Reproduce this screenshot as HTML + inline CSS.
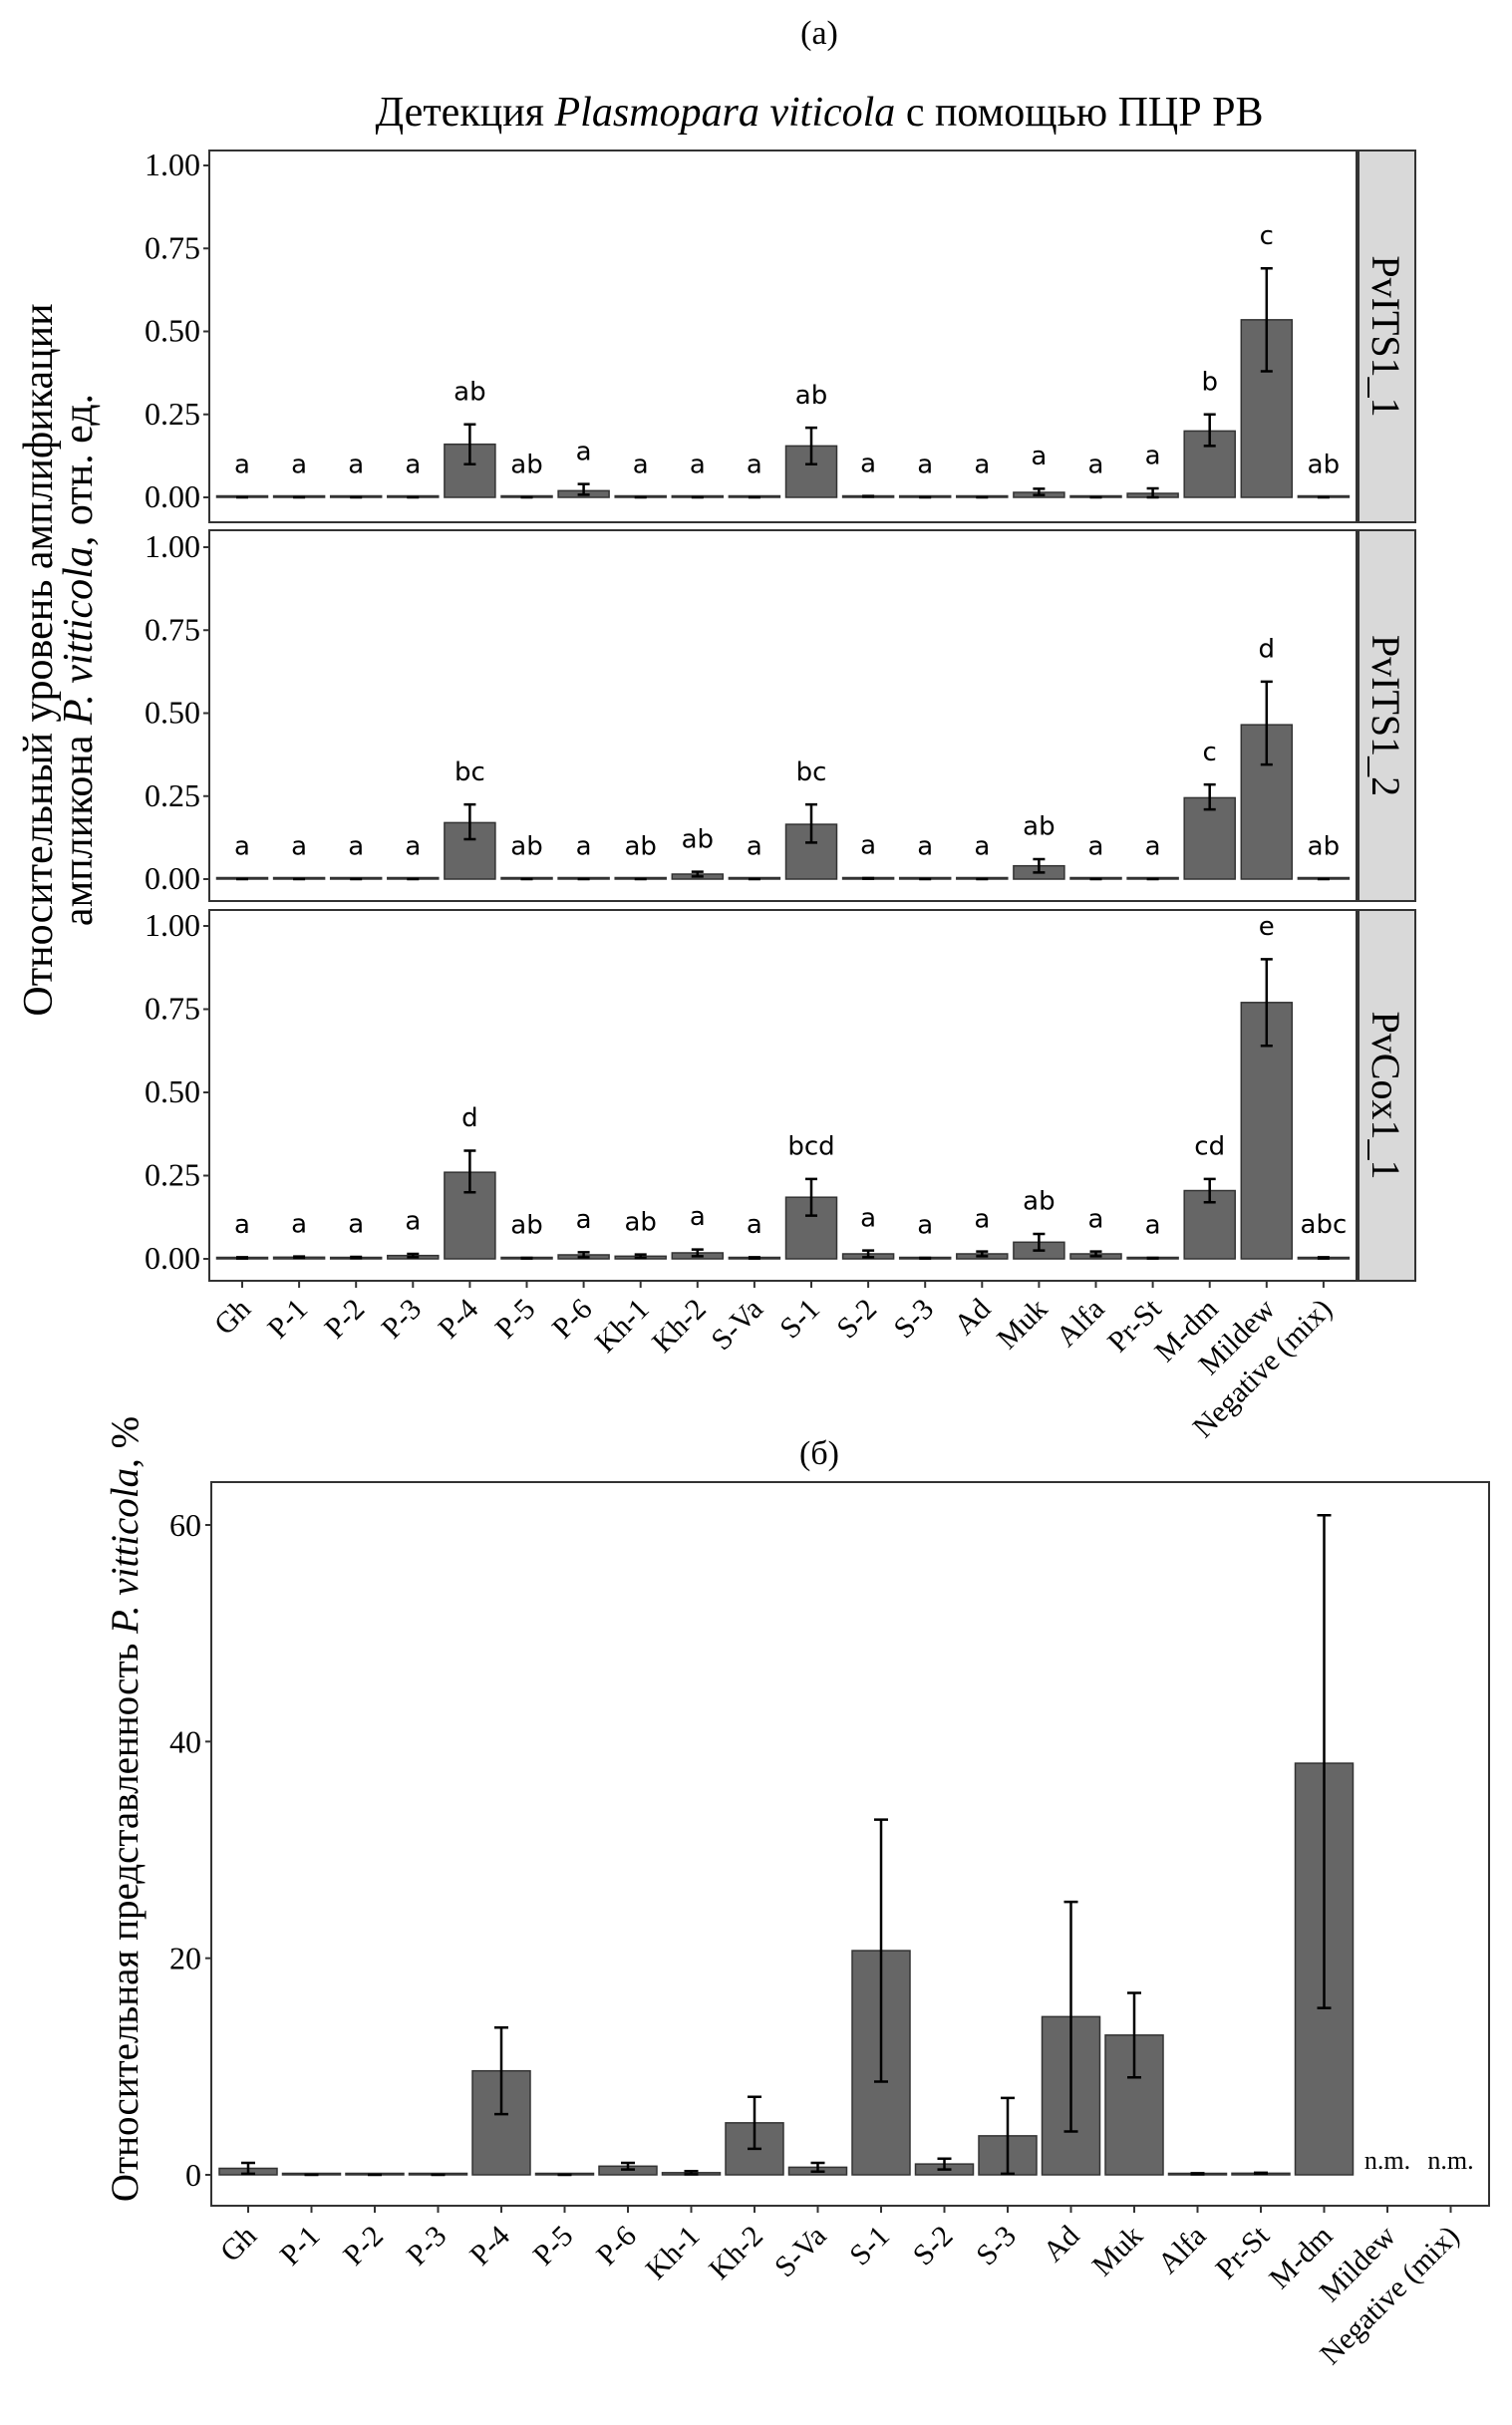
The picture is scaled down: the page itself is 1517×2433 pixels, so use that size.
<!DOCTYPE html>
<html><head><meta charset="utf-8"><style>
body{margin:0;background:#fff}
svg{display:block}
.ser{font-family:"Liberation Serif",serif}
.sans{font-family:"DejaVu Sans","Liberation Sans",sans-serif}
</style></head><body>
<svg id="chart" width="1517" height="2433" viewBox="0 0 1517 2433" xmlns="http://www.w3.org/2000/svg">
<text class="ser" x="822" y="44" font-size="34" text-anchor="middle">(a)</text>
<text class="ser" x="822" y="126" font-size="42" text-anchor="middle">Детекция <tspan font-style="italic">Plasmopara viticola</tspan> с помощью ПЦР РВ</text>
<text class="ser" font-size="42" text-anchor="middle" transform="translate(52,662) rotate(-90)">Относительный уровень амплификации</text>
<text class="ser" font-size="42" text-anchor="middle" transform="translate(92,662) rotate(-90)">ампликона <tspan font-style="italic">P. vitticola</tspan>, отн. ед.</text>
<text class="ser" x="822" y="1469" font-size="34" text-anchor="middle">(б)</text>
<text class="ser" font-size="39" text-anchor="middle" transform="translate(138,1815) rotate(-90)">Относительная представленность <tspan font-style="italic">P. vitticola</tspan>, %</text>
<g id="topchart"></g><g id="bottomchart"></g>
</svg>
<script>
const categories=["Gh","P-1","P-2","P-3","P-4","P-5","P-6","Kh-1","Kh-2","S-Va","S-1","S-2","S-3","Ad","Muk","Alfa","Pr-St","M-dm","Mildew","Negative (mix)"];
const facets=["PvITS1_1","PvITS1_2","PvCox1_1"];
const its1Mean=[0,0,0,0,0.16,0,0.02,0,0,0,0.155,0.003,0,0,0.015,0,0.012,0.20,0.535,0];
const its1Lo=[0,0,0,0,0.10,0,0.008,0,0,0,0.10,0.002,0,0,0.007,0,0.0,0.155,0.38,0];
const its1Hi=[0,0,0,0,0.22,0,0.04,0,0,0,0.21,0.004,0,0,0.026,0,0.027,0.25,0.69,0];
const its1Let=["a","a","a","a","ab","ab","a","a","a","a","ab","a","a","a","a","a","a","b","c","ab"];
const its2Mean=[0,0,0,0,0.17,0,0,0,0.015,0,0.165,0.002,0,0,0.04,0,0,0.245,0.465,0];
const its2Lo=[0,0,0,0,0.12,0,0,0,0.008,0,0.11,0.001,0,0,0.02,0,0,0.21,0.345,0];
const its2Hi=[0,0,0,0,0.225,0,0,0,0.022,0,0.225,0.003,0,0,0.06,0,0,0.285,0.595,0];
const its2Let=["a","a","a","a","bc","ab","a","ab","ab","a","bc","a","a","a","ab","a","a","c","d","ab"];
const coxMean=[0.003,0.005,0.004,0.01,0.26,0.002,0.012,0.008,0.018,0.003,0.185,0.015,0.002,0.015,0.05,0.015,0.002,0.205,0.77,0.003];
const coxLo=[0.001,0.003,0.002,0.005,0.20,0.001,0.005,0.003,0.008,0.001,0.13,0.005,0.001,0.008,0.025,0.008,0.001,0.17,0.64,0.001];
const coxHi=[0.005,0.007,0.006,0.015,0.325,0.003,0.02,0.013,0.028,0.005,0.24,0.025,0.003,0.022,0.075,0.022,0.003,0.24,0.90,0.005];
const coxLet=["a","a","a","a","d","ab","a","ab","a","a","bcd","a","a","a","ab","a","a","cd","e","abc"];
const topTicks=[0,0.25,0.5,0.75,1.0];
const topTickLabels=["0.00","0.25","0.50","0.75","1.00"];
const pctMean=[0.6,0,0,0,9.6,0,0.8,0.2,4.8,0.7,20.7,1.0,3.6,14.6,12.9,0.1,0.15,38.0,null,null];
const pctLo=[0.1,0,0,0,5.6,0,0.5,0.05,2.4,0.3,8.6,0.5,0.1,4.0,9.0,0.05,0.1,15.4,null,null];
const pctHi=[1.1,0,0,0,13.6,0,1.1,0.35,7.2,1.1,32.8,1.5,7.1,25.2,16.8,0.15,0.2,60.9,null,null];
const bottomTicks=[0,20,40,60];

(function(){
const NS="http://www.w3.org/2000/svg";
function mk(parent,tag,attrs,text){const e=document.createElementNS(NS,tag);for(const k in attrs)e.setAttribute(k,attrs[k]);if(text!==undefined)e.textContent=text;parent.appendChild(e);return e;}

const topG=document.getElementById('topchart');
const panels=[{t:151,b:524,zero:499,one:166,m:its1Mean,lo:its1Lo,hi:its1Hi,l:its1Let},
{t:532,b:904,zero:882,one:549,m:its2Mean,lo:its2Lo,hi:its2Hi,l:its2Let},
{t:913,b:1285,zero:1263,one:929,m:coxMean,lo:coxLo,hi:coxHi,l:coxLet}];
const tL=210,tR=1361,sR=1420;
const tx=i=>243+i*57.1;
panels.forEach((p,pi)=>{
  const y=v=>p.zero+(p.one-p.zero)*v;
  const g=mk(topG,'g',{});
  
  
  const bg=mk(g,'rect',{x:tL,y:p.t,width:tR-tL,height:p.b-p.t,fill:'#fff',stroke:'#333','stroke-width':2});
  
  
  const st=mk(g,'rect',{x:tR+2,y:p.t,width:sR-tR-2,height:p.b-p.t,fill:'#d9d9d9',stroke:'#333','stroke-width':2});
  
  
  const sc=(p.t+p.b)/2;
  const stt=mk(g,'text',{class:'ser','font-size':40,'text-anchor':'middle',transform:`translate(${tR+16},${sc}) rotate(90)`},facets[pi]);
  
  
  topTicks.forEach((v,k)=>{
    mk(g,'line',{x1:tL-6,x2:tL,y1:y(v),y2:y(v),stroke:'#333','stroke-width':2});
    const tt=mk(g,'text',{class:'ser','font-size':32,'text-anchor':'end',x:tL-9,y:y(v)+10},topTickLabels[k]);
    
    
  });
  categories.forEach((c,i)=>{
    const cx=tx(i),v=p.m[i];
    const r=mk(g,'rect',{x:cx-25.5,y:Math.min(y(v),p.zero-1.5),width:51,height:Math.max(p.zero-y(v),1.5),fill:'#666',stroke:'#333','stroke-width':1.5});
    
    
    const eb=mk(g,'path',{d:`M${cx-6},${y(p.hi[i])}H${cx+6}M${cx},${y(p.hi[i])}V${y(p.lo[i])}M${cx-6},${y(p.lo[i])}H${cx+6}`,stroke:'#000','stroke-width':2.5,fill:'none'});
    
    
    const lt=mk(g,'text',{class:'sans','font-size':26,'text-anchor':'middle',x:cx,y:y(Math.max(p.hi[i],v)+0.1)+9},p.l[i]);
    
    
    if(pi===2){
      mk(g,'line',{x1:cx,x2:cx,y1:p.b,y2:p.b+7,stroke:'#333','stroke-width':2});
      const xl=mk(g,'text',{class:'ser','font-size':30,'text-anchor':'end',transform:`translate(${cx+10},${p.b+30}) rotate(-45)`},c);
      
      
    }
  });
});

const bot=document.getElementById('bottomchart');
const bL=212,bR=1494,bT=1487,bB=2213,bZ=2182,b60=1530;
const by=v=>bZ+(b60-bZ)*v/60;
const bx=i=>249+i*63.5;
const fr=mk(bot,'rect',{x:bL,y:bT,width:bR-bL,height:bB-bT,fill:'#fff',stroke:'#333','stroke-width':2});


bottomTicks.forEach(v=>{
  mk(bot,'line',{x1:bL-6,x2:bL,y1:by(v),y2:by(v),stroke:'#333','stroke-width':2});
  const t=mk(bot,'text',{class:'ser','font-size':32,'text-anchor':'end',x:bL-10,y:by(v)+11},String(v));
  
  
});
categories.forEach((c,i)=>{
  const cx=bx(i),v=pctMean[i];
  mk(bot,'line',{x1:cx,x2:cx,y1:bB,y2:bB+7,stroke:'#333','stroke-width':2});
  const xl=mk(bot,'text',{class:'ser','font-size':30,'text-anchor':'end',transform:`translate(${cx+10},${bB+32}) rotate(-45)`},c);
  
  
  if(v===null){
    const nm=mk(bot,'text',{class:'ser','font-size':26,'text-anchor':'middle',x:cx,y:bZ-6},'n.m.');
    
    
    return;
  }
  const r=mk(bot,'rect',{x:cx-29,y:Math.min(by(v),bZ-1.5),width:58,height:Math.max(bZ-by(v),1.5),fill:'#666',stroke:'#333','stroke-width':1.5});
  
  
  const eb=mk(bot,'path',{d:`M${cx-7},${by(pctHi[i])}H${cx+7}M${cx},${by(pctHi[i])}V${by(pctLo[i])}M${cx-7},${by(pctLo[i])}H${cx+7}`,stroke:'#000','stroke-width':2.5,fill:'none'});
  
  
});
})();
</script>
</body></html>
